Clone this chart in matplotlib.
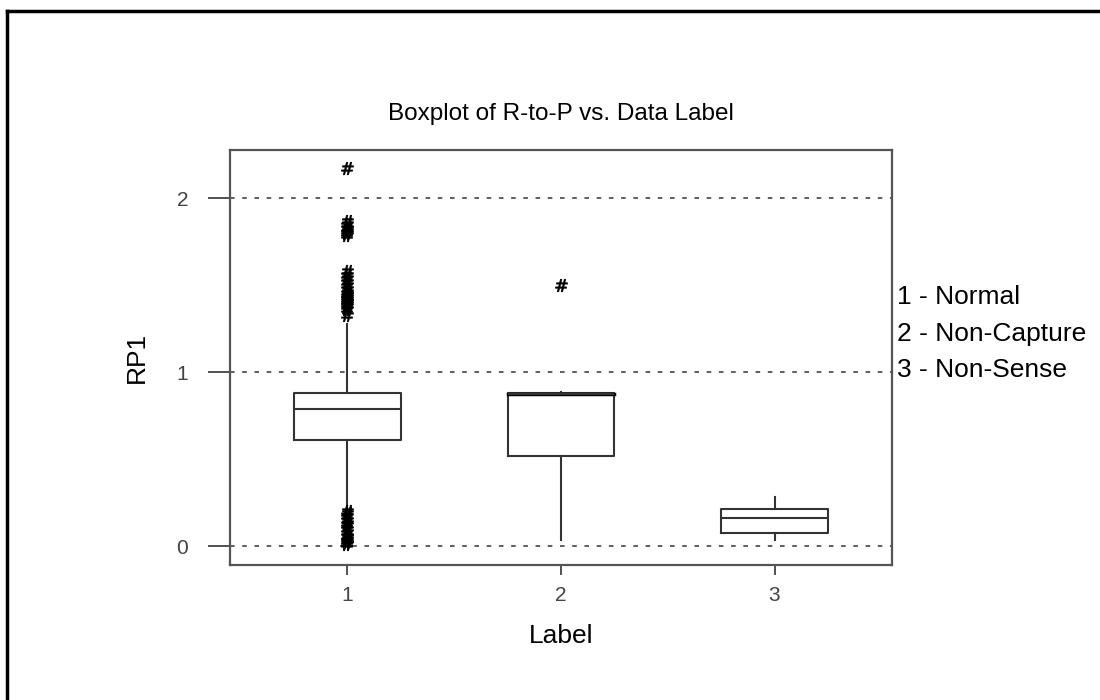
import matplotlib
matplotlib.use("Agg")
import matplotlib.pyplot as plt
from matplotlib.lines import Line2D

plt.rcParams['font.family'] = ['Liberation Sans', 'DejaVu Sans']

# box statistics
labels = ["1", "2", "3"]
q1 = [0.61, 0.515, 0.075]
med = [0.787, 0.874, 0.161]
q3 = [0.879, 0.879, 0.213]
whislo = [0.224, 0.034, 0.034]
whishi = [1.276, 0.888, 0.282]
fliers_1 = [2.17, 1.87, 1.85, 1.83, 1.82, 1.81, 1.80, 1.79,
            1.58, 1.56, 1.54, 1.52, 1.50, 1.48, 1.46, 1.45, 1.44, 1.43,
            1.42, 1.41, 1.40, 1.39, 1.38, 1.36, 1.33,
            0.20, 0.19, 0.17, 0.15, 0.13, 0.12, 0.10, 0.08, 0.06,
            0.05, 0.04, 0.03, 0.02, 0.01]
fliers_2 = [1.50]
fliers_3 = []
legend_lines = ["1 - Normal", "2 - Non-Capture", "3 - Non-Sense"]

fig = plt.figure(figsize=(11, 7), dpi=100)
ax = fig.add_axes([230 / 1100, 1 - 565 / 700, 662 / 1100, 415 / 700])

stats = []
for i, fl in enumerate([fliers_1, fliers_2, fliers_3]):
    stats.append(dict(label=labels[i], q1=q1[i], med=med[i], q3=q3[i],
                      whislo=whislo[i], whishi=whishi[i], fliers=fl))

ax.bxp(stats, positions=[1, 2, 3], widths=0.5, showcaps=False,
       boxprops=dict(color='#333333', linewidth=1.5),
       whiskerprops=dict(color='#333333', linewidth=1.5),
       medianprops=dict(color='#333333', linewidth=1.5),
       flierprops=dict(marker='$\\#$', markersize=9, markeredgewidth=0.5,
                       markerfacecolor='black', markeredgecolor='black'))
# median of group 2 sits on the box edge and looks heavier
ax.plot([1.75, 2.25], [med[1], med[1]], color='black', linewidth=2.5)

for yv in [0, 1, 2]:
    ax.axhline(yv, color='#333333', linewidth=1.1, linestyle=(0, (3, 5)), zorder=0)

ax.set_xlim(0.45, 3.55)
ax.set_ylim(-0.109, 2.276)
ax.set_yticks([0, 1, 2])
ax.set_yticklabels(["0", "1", "2"])
ax.set_xticks([1, 2, 3])
ax.set_xticklabels(labels)
ax.tick_params(axis='y', length=16, width=1.2, color='#333333', labelsize=15,
               labelcolor='#444444', pad=14)
ax.tick_params(axis='x', length=7, width=1.2, color='#333333', labelsize=15,
               labelcolor='#444444', pad=8)
for s in ax.spines.values():
    s.set_color('#555555')
    s.set_linewidth(1.6)

ax.set_xlabel("Label", fontsize=19, labelpad=14)
ax.set_ylabel("RP1", fontsize=19, labelpad=20)
fig.text(561 / 1100, 1 - 120 / 700, "Boxplot of R-to-P vs. Data Label",
         ha='center', va='baseline', fontsize=17.5)

for k, t in enumerate(legend_lines):
    fig.text(897 / 1100, 1 - (297 + 36.5 * k) / 700, t, ha='left', va='center',
             fontsize=19)

# outer frame, only top and left edges show in the picture
fig.add_artist(Line2D([7 / 1100, 1.0], [1 - 11 / 700, 1 - 11 / 700],
                      transform=fig.transFigure, color='black', linewidth=2.5))
fig.add_artist(Line2D([7 / 1100, 7 / 1100], [0.0, 1 - 11 / 700],
                      transform=fig.transFigure, color='black', linewidth=2.5))

fig.savefig("out.png", dpi=100)
